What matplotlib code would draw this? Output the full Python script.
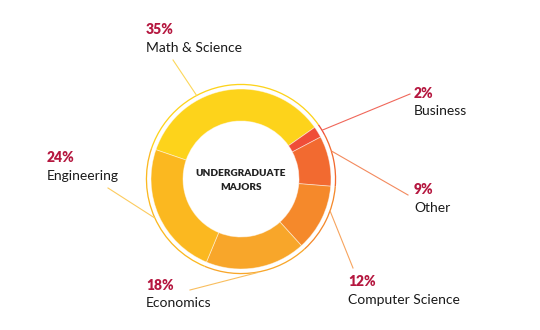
import numpy as np
import matplotlib
matplotlib.use("Agg")
import matplotlib.pyplot as plt
from matplotlib.patches import Wedge

categories = ["Math & Science", "Business", "Other", "Computer Science", "Economics", "Engineering"]
values = [35, 2, 9, 12, 18, 24]
colors = ["#FDD31B", "#EF4D38", "#F26A30", "#F5892B", "#F8A62A", "#FBB820"]
line_colors = ["#FCD75A", "#F0675A", "#F38A5E", "#F7A45E", "#F9BE5E", "#FCCB5E"]

W, H = 540, 330
fig = plt.figure(figsize=(5.4, 3.3), dpi=100)
ax = fig.add_axes([0, 0, 1, 1])

def P(x, y):
    return x, H - y

cx, cy = P(241, 179)
R = 90
width = 32
start = 161

wedges, _ = ax.pie(values, colors=colors, startangle=start, counterclock=False,
                   radius=R, center=(cx, cy),
                   wedgeprops=dict(width=width, edgecolor=(1, 1, 1, 0.5), linewidth=0.6))
ax.set_xlim(0, W)
ax.set_ylim(0, H)
ax.set_aspect("equal")
ax.axis("off")

# outer thin ring, coloured per slice
for w, lc in zip(wedges, colors):
    ax.add_patch(Wedge((cx, cy), R + 5.2, w.theta1, w.theta2, width=1.3,
                       facecolor=lc, edgecolor="none"))

ax.text(cx, cy + 6, "UNDERGRADUATE", ha="center", va="center", fontsize=7.2,
        fontweight="heavy", color="#222222", family="Lato")
ax.text(cx, cy - 8, "MAJORS", ha="center", va="center", fontsize=7.2,
        fontweight="heavy", color="#222222", family="Lato")

# label layout: (pct x, pct y, line end x, line end y, connector angle on ring)
layout = [
    (146, 30, 173, 60, 118),
    (414, 93, 410, 94, 31),
    (414, 190, 408, 195, 17),
    (348, 282, 353, 268, -20),
    (146, 285, 190, 290, -80),
    (47, 158, 108, 188, 204),
]
for cat, v, lc, (tx, ty, lx, ly, ang) in zip(categories, values, line_colors, layout):
    px, py = P(tx, ty)
    ax.text(px, py, f"{v}%", ha="left", va="center", fontsize=10, fontweight="heavy",
            color="#B5173F", family="Lato")
    ax.text(px, py - 18, cat, ha="left", va="center", fontsize=10,
            color="#1a1a1a", family="Lato")
    a = np.deg2rad(ang)
    sx, sy = cx + (R + 5) * np.cos(a), cy + (R + 5) * np.sin(a)
    ex, ey = P(lx, ly)
    ax.plot([sx, ex], [sy, ey], color=lc, linewidth=0.8)

fig.savefig("out.png", dpi=100)
